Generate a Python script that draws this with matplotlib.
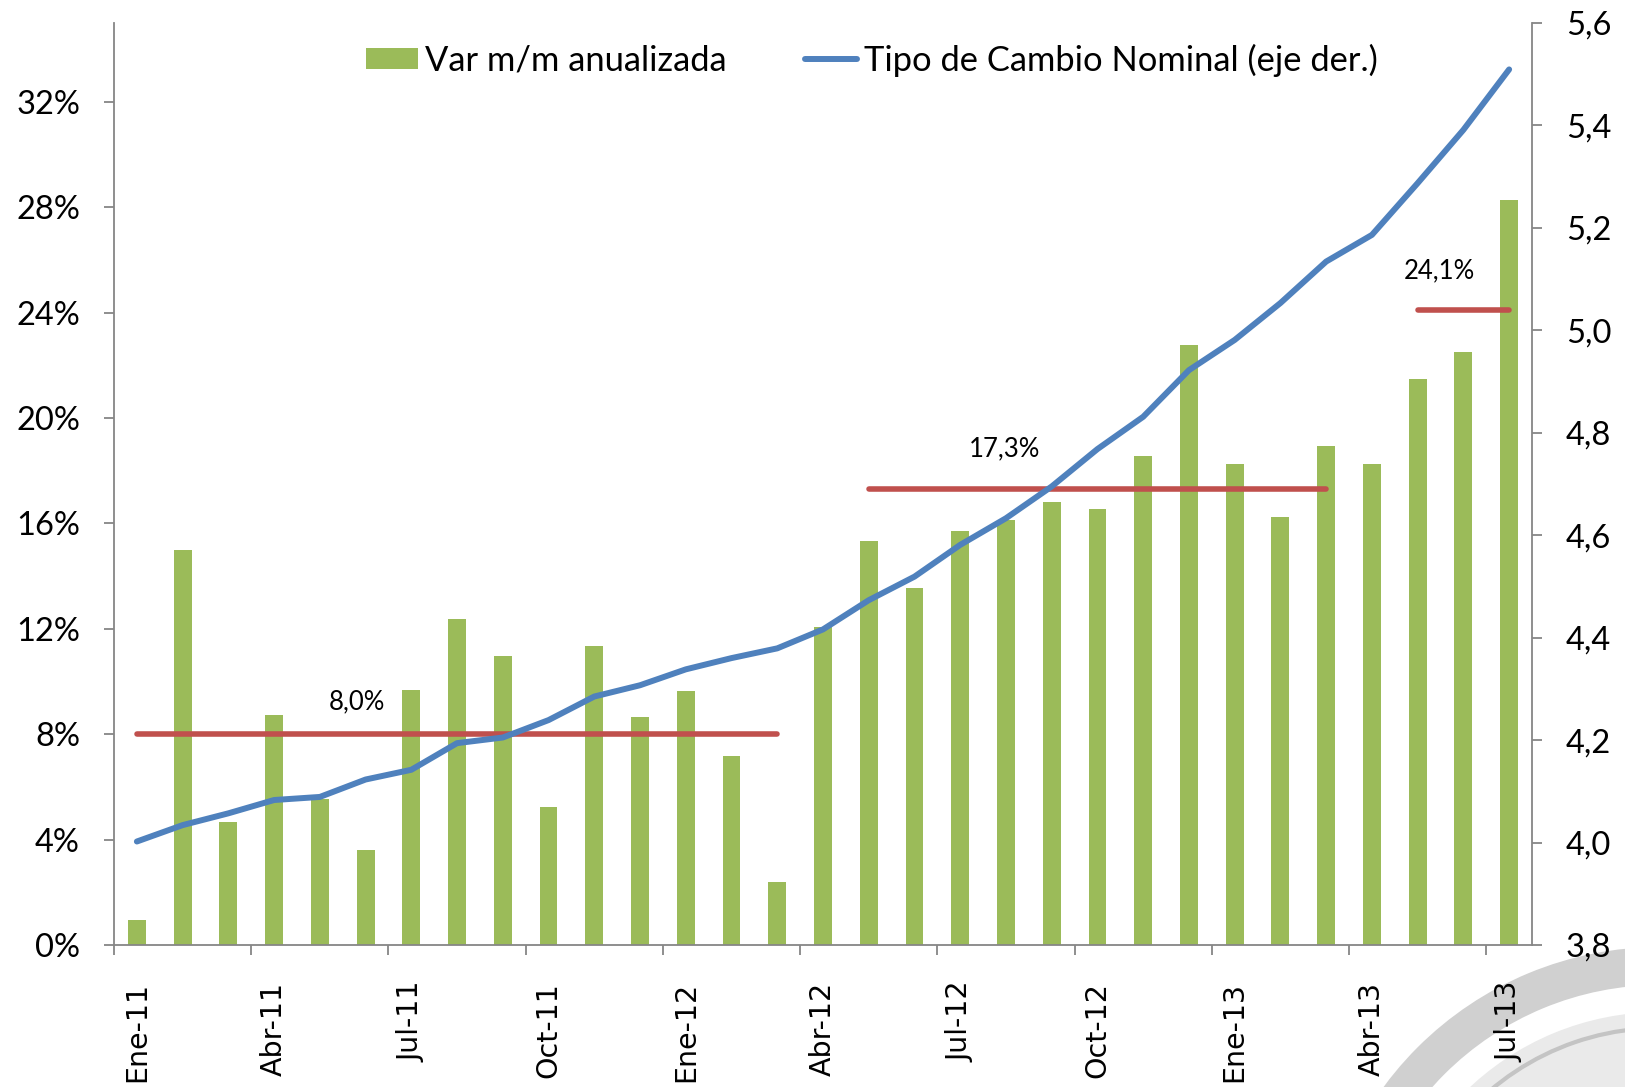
import matplotlib
matplotlib.use('Agg')
import matplotlib.pyplot as plt
from matplotlib.patches import Wedge, Arc
from matplotlib.ticker import FixedLocator, FuncFormatter

# datos
meses = ['Ene-11', 'Feb-11', 'Mar-11', 'Abr-11', 'May-11', 'Jun-11', 'Jul-11', 'Ago-11',
         'Sep-11', 'Oct-11', 'Nov-11', 'Dic-11', 'Ene-12', 'Feb-12', 'Mar-12', 'Abr-12',
         'May-12', 'Jun-12', 'Jul-12', 'Ago-12', 'Sep-12', 'Oct-12', 'Nov-12', 'Dic-12',
         'Ene-13', 'Feb-13', 'Mar-13', 'Abr-13', 'May-13', 'Jun-13', 'Jul-13']
var_mm = [0.94, 14.98, 4.65, 8.74, 5.56, 3.62, 9.67, 12.39, 10.96, 5.24, 11.36, 8.64,
          9.65, 7.18, 2.39, 12.05, 15.34, 13.56, 15.73, 16.12, 16.81, 16.55, 18.56, 22.76,
          18.25, 16.25, 18.93, 18.27, 21.50, 22.51, 28.26]
tipo_cambio = [4.002, 4.034, 4.057, 4.083, 4.089, 4.123, 4.142, 4.194, 4.205, 4.239,
               4.285, 4.307, 4.338, 4.360, 4.379, 4.416, 4.473, 4.519, 4.581, 4.633,
               4.695, 4.768, 4.831, 4.922, 4.981, 5.053, 5.134, 5.186, 5.287, 5.391, 5.509]
# promedios por periodo
prom_desde = [0, 16, 28]
prom_hasta = [14, 26, 30]
prom_valor = [8.0, 17.3, 24.1]
prom_texto = ['8,0%', '17,3%', '24,1%']

verde = '#9BBB59'
azul = '#4F81BD'
rojo = '#C0504D'
gris = '#868686'

plt.rcParams['font.family'] = ['Lato', 'DejaVu Sans']

W, H = 1625, 1087
fig = plt.figure(figsize=(W / 100, H / 100), dpi=100)

# marca de agua (arcos grises abajo a la derecha)
bg = fig.add_axes([0, 0, 1, 1], zorder=-1)
bg.set_xlim(0, W)
bg.set_ylim(H, 0)
bg.axis('off')
cx, cy = 1660, 1290
bg.add_patch(Wedge((cx, cy), 343, 0, 360, width=38, color='#D0D0D0', lw=0))
bg.add_patch(Wedge((cx, cy), 278, 0, 360, width=90, color='#EAEAEA', lw=0))
bg.add_patch(Arc((cx, cy), 2 * 262, 2 * 262, theta1=222, theta2=280, color='#C4C4C4', lw=3))

ax = fig.add_axes([114 / W, 1 - 945 / H, (1532 - 114) / W, (945 - 22.8) / H])
ax.patch.set_visible(False)
x = list(range(len(meses)))

barras = ax.bar(x, var_mm, width=0.39, color=verde, zorder=2, label='Var m/m anualizada')

for a, b, v in zip(prom_desde, prom_hasta, prom_valor):
    ax.plot([a, b], [v, v], color=rojo, lw=4.0, solid_capstyle='round', zorder=3)

pos_texto = [(4.82, 9.23), (18.96, 18.84), (28.47, 25.57)]
for (tx, ty), t in zip(pos_texto, prom_texto):
    ax.text(tx, ty, t, ha='center', va='center', fontsize=18.5, color='black')

ax.set_xlim(-0.5, len(meses) - 0.5)
ax.set_ylim(0, 35)
ax.set_yticks(range(0, 33, 4))
ax.yaxis.set_major_formatter(FuncFormatter(lambda v, p: '%d%%' % v))

# ticks del eje x: marcas entre categorias, etiquetas en el centro
ax.xaxis.set_major_locator(FixedLocator([i - 0.5 for i in range(0, len(meses), 3)]))
ax.xaxis.set_minor_locator(FixedLocator(list(range(0, len(meses), 3))))
ax.set_xticklabels([])
ax.set_xticklabels([meses[i] for i in range(0, len(meses), 3)], minor=True,
                   rotation=90, fontsize=20.5, family='DejaVu Sans', va='top', ha='center')
ax.tick_params(axis='x', which='major', length=7.5, width=1.3, color=gris)
ax.tick_params(axis='x', which='minor', length=0, pad=26.5)
ax.tick_params(axis='y', length=7.5, width=1.3, color=gris, labelsize=23.5, pad=17)

for s in ['top', 'right']:
    ax.spines[s].set_visible(False)
for s in ['left', 'bottom']:
    ax.spines[s].set_color(gris)
    ax.spines[s].set_linewidth(1.3)

ax2 = ax.twinx()
linea, = ax2.plot(x, tipo_cambio, color=azul, lw=4.3, solid_joinstyle='round',
                  solid_capstyle='round', label='Tipo de Cambio Nominal (eje der.)')
ax2.set_ylim(3.8, 5.6)
ax2.set_yticks([3.8 + 0.2 * i for i in range(10)])
ax2.yaxis.set_major_formatter(FuncFormatter(lambda v, p: ('%.1f' % v).replace('.', ',')))
ax2.tick_params(axis='y', length=7.5, width=1.3, color=gris, labelsize=23.5, pad=17)
for s in ['top', 'left', 'bottom']:
    ax2.spines[s].set_visible(False)
ax2.spines['right'].set_color(gris)
ax2.spines['right'].set_linewidth(1.3)

ax2.legend([barras, linea], ['Var m/m anualizada', 'Tipo de Cambio Nominal (eje der.)'],
           loc='center left', bbox_to_anchor=(366 / W, 1 - 60 / H),
           bbox_transform=fig.transFigure, ncol=2, frameon=False, fontsize=24.8,
           borderpad=0, borderaxespad=0, handlelength=1.51, handleheight=0.58,
           handletextpad=0.2, columnspacing=2.27)

fig.savefig('out.png', dpi=100)
